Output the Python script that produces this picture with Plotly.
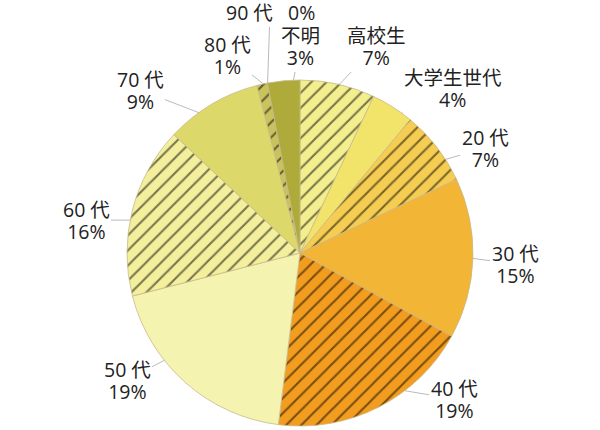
import math
import plotly.graph_objects as go

# ---- data ----
labels = ["高校生", "大学生世代", "20 代", "30 代", "40 代", "50 代", "60 代", "70 代", "80 代", "90 代", "不明"]
values = [7, 4, 7, 15, 19, 19, 16, 9, 1, 0, 3]

# ---- style ----
colors = ["#f3ee8e", "#f2e36a", "#f5cd52", "#f2b535", "#f29d1f", "#f5f3b0",
          "#f3ef9c", "#dcd86a", "#c8c35c", "#bdb84a", "#aeab3b"]
hatched = [True, False, True, False, True, False, True, False, True, False, False]
# label block centres (pixels) and where the leader touches the slice (fraction of slice)
label_px = [(376, 46), (453, 88), (485, 148), (515, 264), (454, 399), (127, 380),
            (86, 220), (140, 90), (227, 55), (270, 12), (300, 46)]
leader_frac = [0.52, 0.75, 0.7, 0.5, 0.35, 0.65, 0.44, 0.34, 0.6, 0.5, 0.8]
single_line = [False] * 9 + [True, False]

W, H = 600, 430
ML, MT, SIZE = 127, 80, 346
MR = W - ML - SIZE
MB = H - MT - SIZE
FONT = "Open Sans, Noto Sans CJK JP, sans-serif"
TXT = 19.5

fig = go.Figure(go.Pie(
    labels=labels, values=values, sort=False, direction="clockwise", rotation=0,
    textinfo="none", hoverinfo="label+percent",
    marker=dict(
        colors=colors,
        line=dict(color="#c9b98c", width=0.8),
        pattern=dict(
            shape=["/" if h else "" for h in hatched],
            fgcolor="#000000",
            bgcolor=colors,
            size=10.7,
            solidity=0.2,
            fillmode="overlay",
        ),
    ),
    showlegend=False,
))

total = sum(values)
annotations = []
cum = 0.0
for i, (lab, v) in enumerate(zip(labels, values)):
    ang = (cum + leader_frac[i] * v) / total * 2 * math.pi
    cum += v
    x = 0.5 + 0.5 * math.sin(ang)
    y = 0.5 + 0.5 * math.cos(ang)
    apx = ML + SIZE * x
    apy = MT + SIZE * (1 - y)
    pct = f"{round(v / total * 100)}%"
    sp = f"<span style='font-size:{TXT}px'>"
    if single_line[i]:
        text = f"{sp}{lab}\u00a0\u00a0\u00a0{pct}</span>"
    else:
        text = f"{sp}{lab}</span><br>{sp}{pct}</span>"
    lx, ly = label_px[i]
    annotations.append(dict(
        x=x, y=y, xref="paper", yref="paper", text=text,
        showarrow=True, arrowhead=0, arrowwidth=0.8, arrowcolor="#a8a8a8",
        ax=lx - apx, ay=ly - apy, standoff=0, borderpad=1,
        font=dict(family=FONT, size=17, color="#222222"),
        align="center",
    ))

fig.update_layout(
    width=W, height=H,
    margin=dict(l=ML, r=MR, t=MT, b=MB),
    paper_bgcolor="white", plot_bgcolor="white",
    annotations=annotations,
    font=dict(family=FONT),
)

fig.write_html("out.html", config={"displayModeBar": False},
               post_script="document.body.style.margin='0';")
